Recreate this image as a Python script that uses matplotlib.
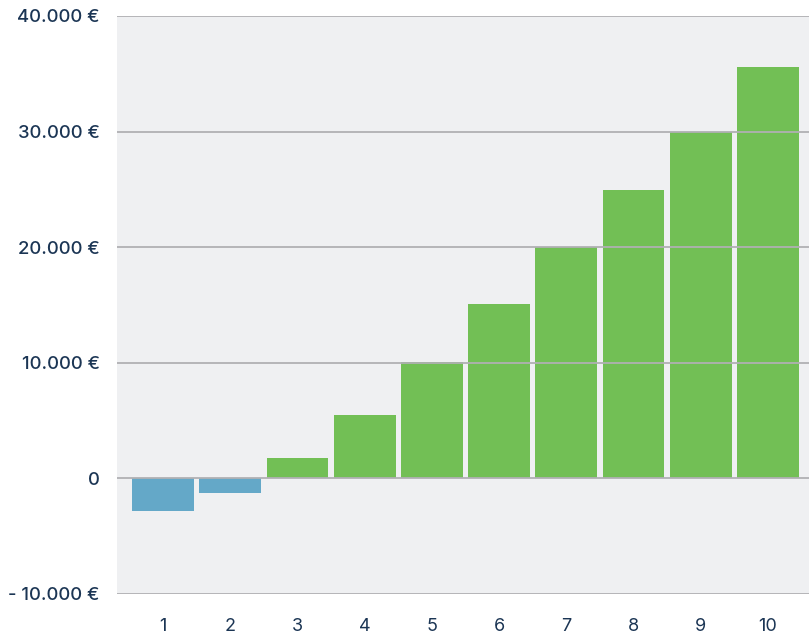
import matplotlib.pyplot as plt
import numpy as np

years = [1, 2, 3, 4, 5, 6, 7, 8, 9, 10]
values = [-2850, -1300, 1750, 5450, 10050, 15050, 20000, 24950, 30000, 35600]
yticks = [-10000, 0, 10000, 20000, 30000, 40000]
ylabels = ['- 10.000 €', '0', '10.000 €', '20.000 €', '30.000 €', '40.000 €']

green = '#72BF55'
blue = '#64A8C8'
navy = '#1B3554'

plt.rcParams['font.family'] = ['Inter', 'DejaVu Sans']

fig = plt.figure(figsize=(8.09, 6.32), dpi=100)
ax = fig.add_axes([117 / 809, 1 - 594 / 632, 1 - 117 / 809, (594 - 16) / 632])
ax.set_facecolor('#EFF0F2')

colors = [blue if v < 0 else green for v in values]
ax.bar(years, values, width=0.92, color=colors, zorder=2)

ax.set_ylim(-10000, 40000)
ax.set_xlim(0.315, 10.61)
ax.set_yticks(yticks)
ax.set_yticklabels(ylabels)
ax.set_xticks(years)
ax.set_xticklabels([str(y) for y in years])

ax.grid(axis='y', color='#B0B0B3', linewidth=1.3, zorder=3)
ax.set_axisbelow(False)
for s in ax.spines.values():
    s.set_visible(False)

ax.tick_params(axis='y', length=0, pad=12.5, labelsize=13.3, labelcolor=navy)
ax.tick_params(axis='x', length=0, pad=17, labelsize=13, labelcolor=navy)
for t in ax.get_yticklabels():
    t.set_fontweight('medium')

fig.savefig('out.png', dpi=100)
